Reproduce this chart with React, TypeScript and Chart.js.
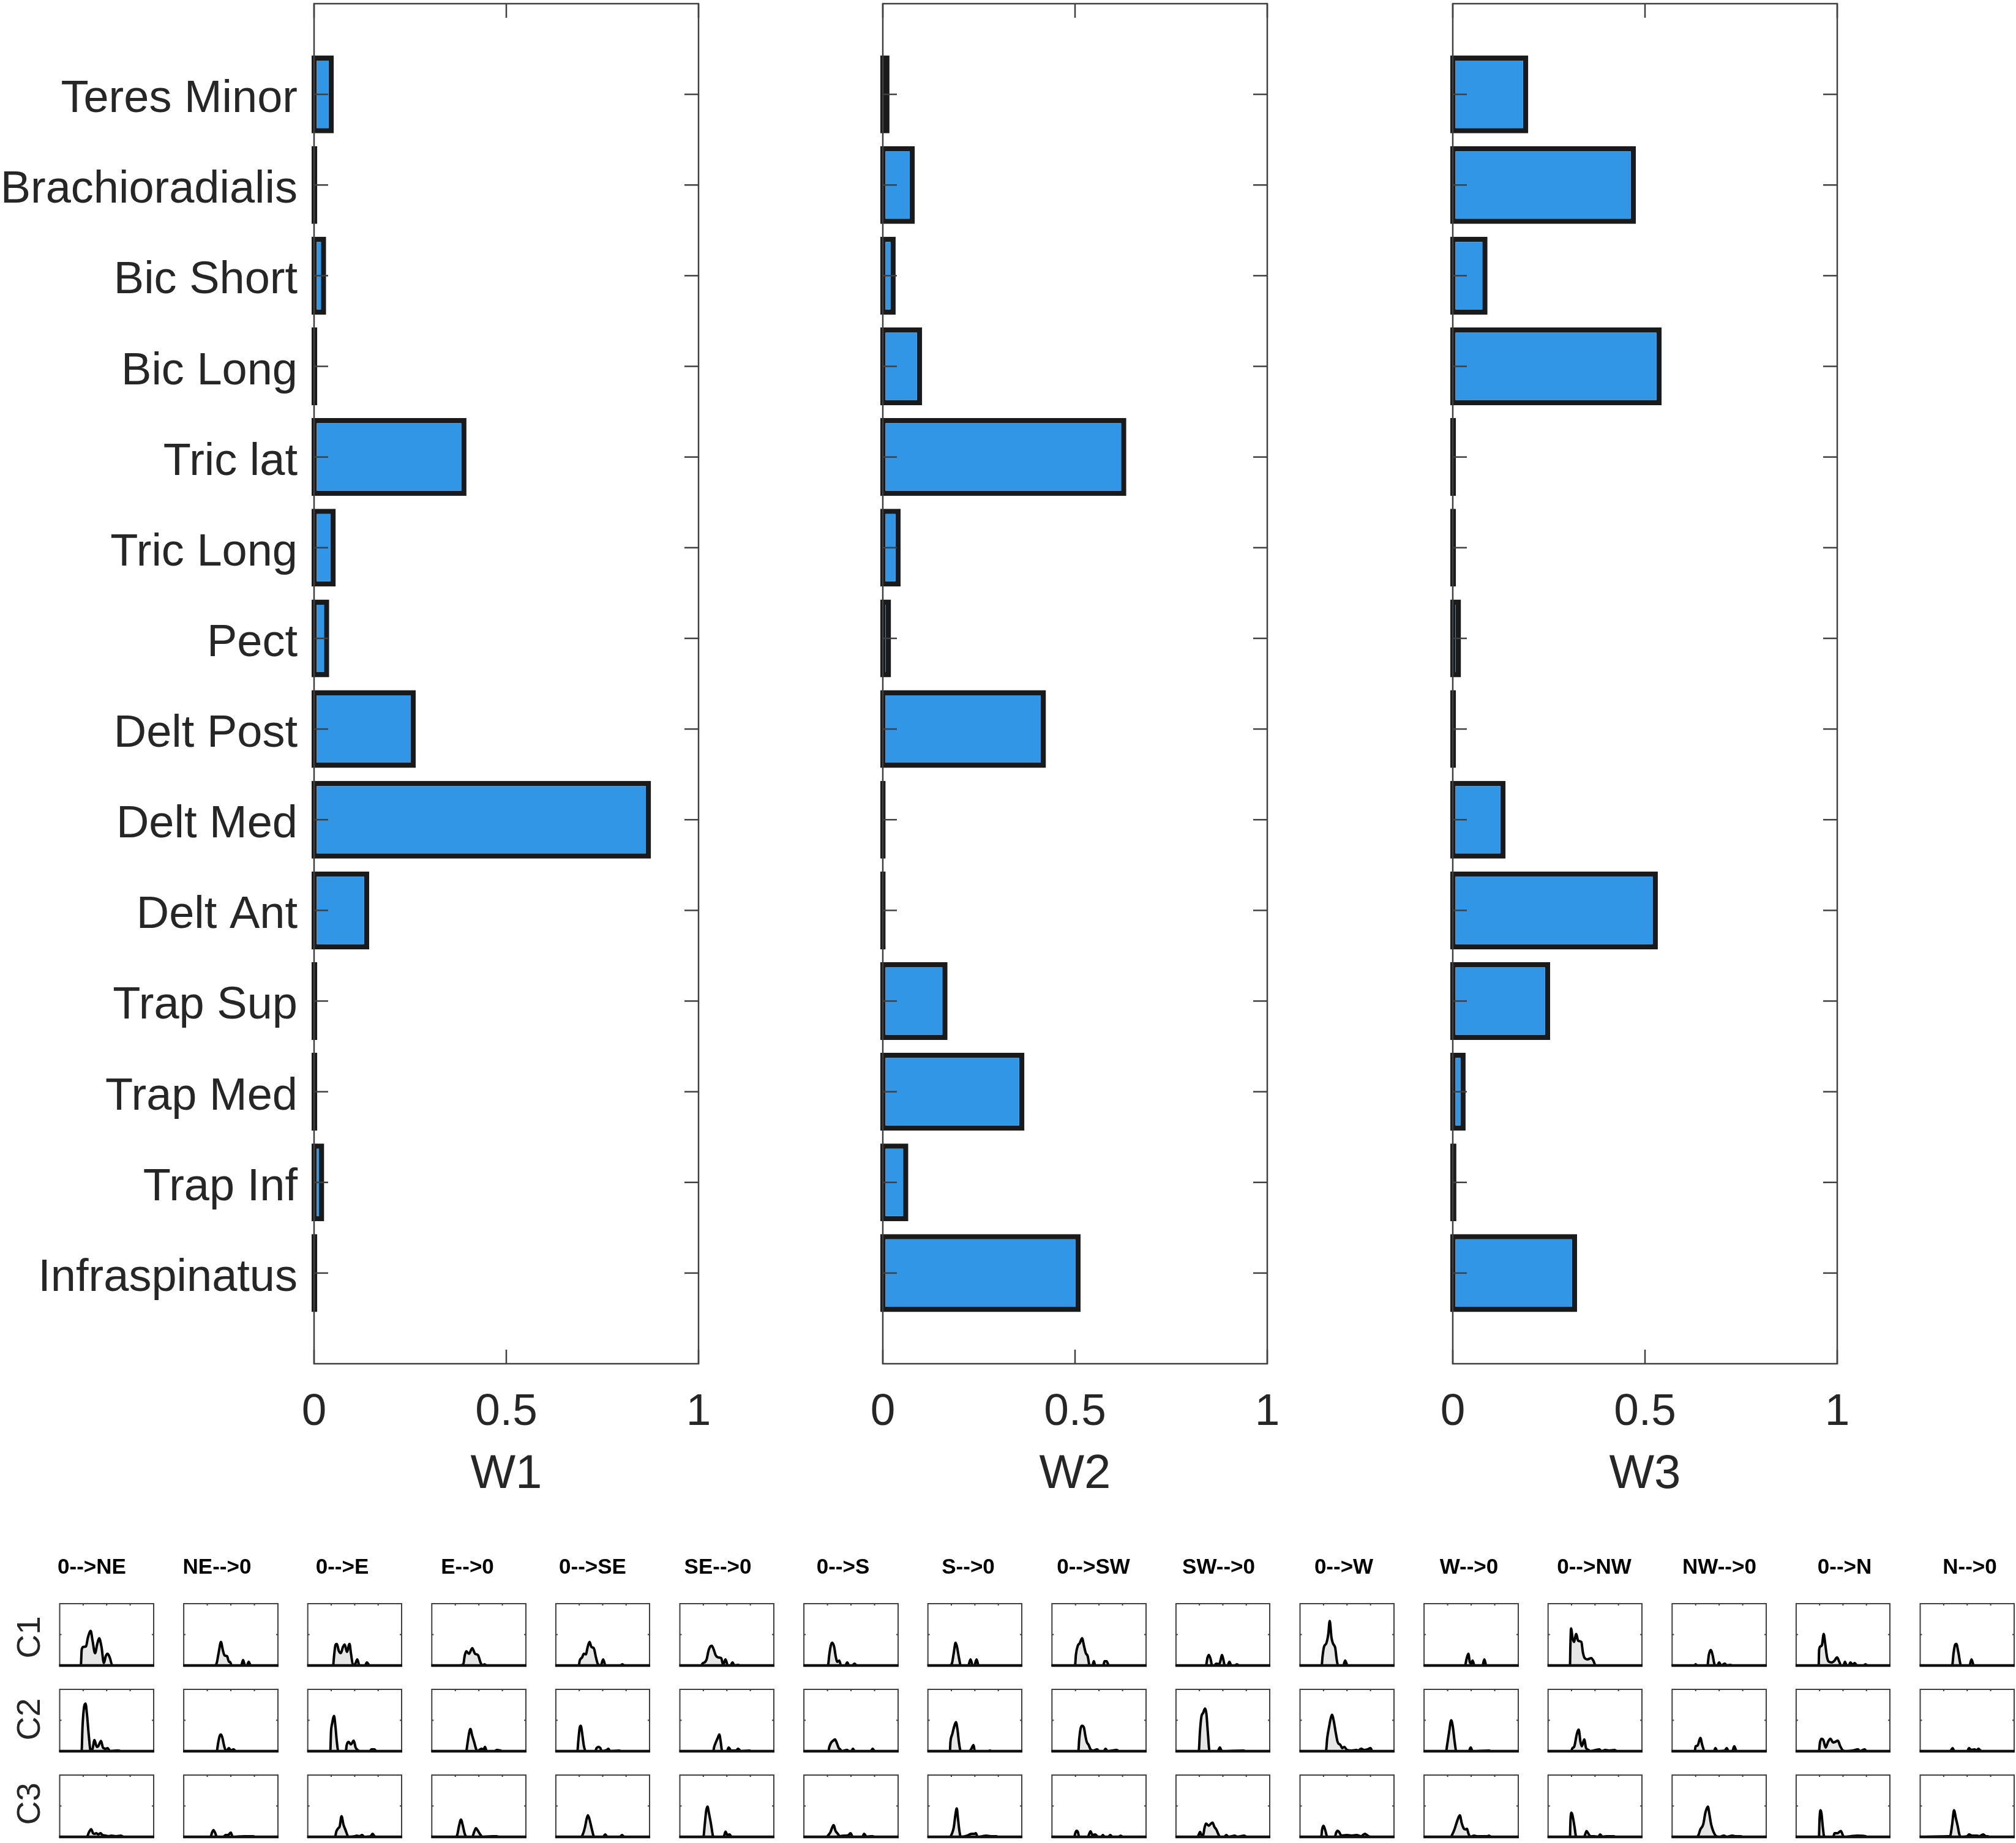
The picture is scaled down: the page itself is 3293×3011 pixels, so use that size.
import { useEffect, useRef } from "react"
import { Chart, registerables } from "chart.js"

Chart.register(...registerables)

const FONT = '"Liberation Sans", Arial, sans-serif'
const TEXT_COLOR = "#262626"
const FRAME_COLOR = "#404040"

// muscles, top of the axis first
const muscles = [
  "Teres Minor", "Brachioradialis", "Bic Short", "Bic Long", "Tric lat", "Tric Long", "Pect",
  "Delt Post", "Delt Med", "Delt Ant", "Trap Sup", "Trap Med", "Trap Inf", "Infraspinatus",
]
const w1 = [0.045, 0.002, 0.025, 0.002, 0.39, 0.05, 0.033, 0.258, 0.87, 0.137, 0.002, 0.002, 0.02, 0.002]
const w2 = [0.011, 0.077, 0.027, 0.096, 0.627, 0.04, 0.015, 0.418, 0.001, 0.001, 0.162, 0.362, 0.06, 0.508]
const w3 = [0.19, 0.47, 0.084, 0.537, 0.002, 0.002, 0.015, 0.002, 0.131, 0.527, 0.247, 0.027, 0.003, 0.317]
const xTickValues = [0, 0.5, 1]

const directions = [
  "0-->NE", "NE-->0", "0-->E", "E-->0", "0-->SE", "SE-->0", "0-->S", "S-->0",
  "0-->SW", "SW-->0", "0-->W", "W-->0", "0-->NW", "NW-->0", "0-->N", "N-->0",
]
const rowNames = ["C1", "C2", "C3"]

// [time %, activation], one list per direction
const c1: number[][][] = [
  [[22.5,0],[23.4,.25],[25,.30],[28,.31],[30,.45],[33,.56],[35,.4],[37.6,.2],[40,.35],[42,.44],[44.5,.3],[47,.04],[49,.15],[51,.19],[53.5,.12],[56,0]],
  [[33,0],[35,.04],[37,.2],[39.5,.38],[41.5,.25],[43.5,.16],[46,.15],[48,.06],[49,.06],[51,0],[61,0],[63,.09],[65,0],[67,0],[69,.06],[71,0]],
  [[27,0],[28,.15],[29.5,.33],[31,.35],[33,.24],[35.3,.2],[37.5,.3],[39.4,.34],[41.7,.22],[44.5,.35],[46,.2],[48,.02],[50,.01],[52.8,.1],[55,0],[61,0],[63,.05],[66,0]],
  [[29,0],[33.5,.02],[35,.16],[36.7,.23],[39.5,.19],[43,.28],[46,.19],[49,.17],[52,.04],[54,0],[56,.02],[58,0]],
  [[24.5,0],[25.5,.08],[28,.13],[30,.19],[32,.18],[34,.3],[36,.38],[38,.3],[40.5,.28],[43,.12],[45,.02],[48,0],[50.5,.1],[53,0],[69,0],[71,.02],[73,0]],
  [[23,0],[24,.03],[27,.06],[28.5,.1],[30.5,.24],[32.5,.31],[34,.32],[36,.26],[38,.17],[41,.13],[44,.12],[46,.01],[48.6,.1],[51,0],[54,0],[56,.05],[58,0],[62,.01],[64,0]],
  [[25.5,0],[27,.18],[28.5,.32],[30,.37],[32,.31],[34,.13],[35.5,.06],[37.5,.08],[39.5,0],[44,0],[46,.05],[48,0],[51.5,0],[53.7,.03],[56,0]],
  [[23,0],[25.5,.03],[27.5,.2],[29.5,.37],[31,.3],[33,.13],[35,0],[43,0],[45.4,.1],[47.7,0],[49.5,0],[51.8,.1],[54,0]],
  [[24.5,0],[25.5,.18],[27.5,.32],[29.5,.36],[32,.44],[34,.32],[36,.2],[38,.15],[40,0],[43,0],[44.5,.07],[46,0],[54.5,0],[56,.07],[58,.07],[60.5,0]],
  [[32,0],[33.5,.12],[35,.17],[37,.1],[38.5,0],[41,0],[43,.03],[46,.02],[47.5,.08],[49,.17],[50.5,.1],[52,0],[55,0],[57,.06],[59,0],[63,0],[65,.02],[67,0]],
  [[23,0],[24,.15],[25.5,.3],[28,.36],[30,.5],[31.6,.72],[33.5,.45],[35,.36],[37.5,.28],[39,.1],[40.5,0],[46,0],[48,.08],[50.5,0]],
  [[43.5,0],[45,.1],[47,.19],[48.5,.06],[50,.03],[51.5,.08],[53.5,0],[62,0],[64,.1],[66,0]],
  [[23.3,0],[23.8,.35],[24.5,.6],[26,.45],[27.5,.38],[30,.51],[32,.4],[35.5,.38],[37,.22],[39,.12],[42,.1],[46,.12],[48.5,.07],[50.5,0]],
  [[24,0],[25,.02],[26.5,0],[37.5,0],[39,.17],[41,.25],[43,.17],[45,.02],[46.5,0],[48,0],[50,.05],[52,0],[56,.03],[58,0],[62,.01],[64,0]],
  [[24,0],[24.5,.25],[26,.31],[27.5,.33],[29.4,.51],[31,.35],[33,.13],[35,.06],[38,.05],[41,.08],[43.6,.13],[46,.06],[48,0],[50.5,0],[52,.06],[54,0],[56,0],[58,.05],[60,.01],[62.5,.04],[65,0],[72,0],[74,.02],[76,0]],
  [[34,0],[35.5,.2],[37,.33],[38.5,.35],[40.5,.22],[43.5,0],[52.5,0],[54.6,.1],[57,0]],
]

const c2: number[][][] = [
  [[23.3,0],[24.3,.4],[26,.72],[27.5,.77],[29,.6],[31,.25],[33,0],[35,.04],[37,.18],[39.5,.07],[41,.08],[44,.165],[46,.06],[49,.04],[51,.05],[53.5,0],[60,.01],[63,.01],[65,0]],
  [[35,0],[36.5,.13],[38,.24],[39.5,.27],[41,.22],[43,.08],[45,0],[48,.05],[50,.01],[53,.03],[55,0]],
  [[24,0],[24.8,.32],[26,.45],[28,.57],[29.5,.4],[31,.15],[32.6,0],[40.5,0],[41.5,.1],[43.5,.15],[46,.11],[49,.17],[51,.06],[53,.02],[56,0],[66,0],[68,.03],[71,.03],[73,0]],
  [[36.5,0],[38,.13],[39.5,.28],[41,.36],[43,.25],[45,.15],[47,.04],[48.5,0],[51.5,.03],[53,.04],[55,.02],[56.5,.07],[58.5,0],[67,0],[69,.02],[73,.01],[75,0]],
  [[23,0],[24,.17],[25.5,.38],[26.6,.41],[28,.3],[30,.08],[32,0],[42,0],[43.5,.05],[45.5,.07],[47.5,.05],[49,0],[54.5,.02],[56,.04],[58,0],[67.5,.01],[70,0]],
  [[35.5,0],[36.5,.07],[38.5,.15],[40.5,.22],[42,.27],[43.5,.15],[45,0],[50,0],[52,.06],[54.5,.01],[60,.01],[62,.04],[65,0],[74,.01],[76,0]],
  [[26,0],[27,.07],[29,.14],[31,.17],[33,.19],[35,.13],[37,.05],[38.5,.03],[40,0],[46,.02],[47.5,0],[50.5,0],[52,.04],[54,0],[71,0],[73,.04],[75,0]],
  [[23.4,0],[24,.15],[26,.28],[28,.4],[29.8,.47],[31.5,.35],[33,.15],[35,0],[44,0],[46,.03],[48.6,.1],[50,0],[65,0],[66,.01],[68,0]],
  [[28,0],[29,.2],[30.5,.37],[32,.41],[34,.38],[35.5,.25],[37,.15],[39,.1],[41,.03],[44,.01],[48,.03],[50,0],[55,0],[57,.04],[59,0],[69,.02],[71,0]],
  [[24.3,0],[25.5,.3],[27,.55],[29,.62],[31,.69],[32.5,.6],[34,.3],[35.8,0],[44.5,0],[46.8,.06],[49,0],[72,.01],[74,0]],
  [[27.5,0],[29,.22],[31,.4],[32.5,.52],[34,.59],[36,.48],[38,.3],[40,.15],[43,.1],[45,.05],[47,.07],[50,.02],[55,.01],[60,.02],[62,.01],[65,.04],[68,.02],[72,.03],[75,.05],[77,0]],
  [[23.4,0],[24.5,.1],[26.5,.3],[28.8,.5],[30.5,.4],[32.5,.15],[34.2,0],[47.5,0],[49.5,.06],[51.5,0],[69,.01],[71,0]],
  [[24.5,0],[26,.05],[28,.08],[30.5,.27],[32.6,.35],[34.5,.15],[36,.08],[38.5,.19],[40.5,.05],[43,.02],[45,0],[54.6,.03],[57,0],[61,.02],[65,.01],[71,.02],[73,0]],
  [[24,0],[25,.08],[27,.09],[30,.215],[32,.1],[34.5,0],[44.5,0],[46,.05],[48,0],[56,.01],[58,.05],[60,0],[64,0],[66,.08],[68.5,0]],
  [[24.3,0],[25.3,.13],[27,.2],[29,.18],[31.5,.06],[34,.15],[36.5,.2],[39.5,.14],[41.5,.15],[44.5,.17],[47,.08],[50,.01],[53,0],[60,.01],[66,.03],[68,0],[73,.03],[75,0]],
  [[32,0],[34.4,.05],[36.5,0],[50,0],[52,.05],[54,.02],[58,.03],[60,.01],[62,.04],[64,.01],[66,0]],
]

const c3: number[][][] = [
  [[29,0],[31,.07],[33.5,.125],[35.5,.06],[37,.05],[39,.06],[41,.04],[43.5,.06],[45.5,.03],[49,.02],[52,.01],[55,.02],[60,.01],[65,.02],[68,0]],
  [[28.5,0],[30,.07],[31.6,.11],[33.5,.06],[35,0],[42,0],[44.5,.03],[47,.03],[50,.07],[52,0],[64,.01],[70,.01],[74,.01],[75,0]],
  [[29,0],[30.5,.09],[32.5,.14],[34,.17],[36,.335],[38,.2],[40,.12],[43.5,0],[50,.01],[52,.02],[55,.01],[58,.03],[60,0],[67,.01],[69,.05],[72,0]],
  [[25,0],[27,.03],[29,.18],[31,.28],[33,.18],[35,.05],[37,0],[43,0],[45,.08],[47,.14],[49,.1],[51,.05],[54,0],[64,.01],[69,.01],[71,0]],
  [[27,0],[29,.05],[31,.15],[33,.3],[34.2,.35],[36,.28],[38.5,.12],[41,0],[50.5,0],[52.7,.04],[55,0],[68.5,0],[70.6,.03],[73,0]],
  [[25,0],[26.5,.2],[28,.42],[29.4,.49],[31,.38],[33,.22],[35.8,0],[46.5,0],[48.6,.085],[50.5,.03],[53,.04],[55,0]],
  [[24,0],[26,.03],[28,.07],[30,.15],[31.6,.19],[33.5,.1],[36,.05],[38,.01],[42,.02],[45,.02],[47.5,.03],[49.5,.06],[52,0],[62,0],[64,.05],[66.5,0],[71,.01],[73,.01],[75,0]],
  [[23.4,0],[25.5,.05],[27.5,.15],[29.5,.38],[30.7,.46],[32,.3],[33.5,.1],[35,0],[42,.02],[44.5,.04],[47,.05],[49.5,.05],[51,.06],[53,0],[58,.01],[62,.02],[67,.01],[73,.01],[74,0]],
  [[23.5,0],[25,.07],[26,.1],[27.5,.08],[29,0],[38,0],[41,.09],[43,.03],[46,.04],[49,0],[52.5,0],[54,.03],[56,0],[60,0],[62,.03],[64,0],[71,0],[73,.02],[75,0]],
  [[23,0],[25.7,.08],[27.5,.02],[29,.03],[30.5,.15],[32,.215],[35,.18],[37,.21],[39,.23],[41,.16],[43,.12],[45,.05],[47,0],[51.5,0],[53.7,.03],[56,0],[63,.02],[65,0],[73,.02],[75,0]],
  [[22.5,0],[23.5,.12],[25,.18],[27,.1],[29,0],[37,0],[38.5,.07],[40,.1],[42,.07],[44,.02],[50,.03],[55,.02],[60,.03],[65,.01],[69,.05],[73,.01],[75,0]],
  [[28.5,0],[30,.04],[32.5,.13],[35,.25],[37,.33],[38,.35],[40,.22],[42,.14],[44,.12],[45.5,.13],[47,.06],[49,0],[53,.02],[56,.01],[67,.01],[69,.02],[71,0]],
  [[23.3,0],[23.8,.25],[24.8,.39],[26,.35],[28,.18],[30,0],[38.5,0],[39.5,.04],[41,.095],[43,.05],[45,.01],[49,.01],[53.5,0],[55.5,.04],[58,0],[62,.01],[70,.01],[72,0]],
  [[26.5,0],[28,.03],[30,.12],[33,.2],[35.5,.4],[38,.49],[39.5,.38],[41.5,.2],[44,.08],[47,.01],[50,0],[55,.02],[58,0],[64,.02],[67,.01],[73,.01],[75,0]],
  [[24.3,0],[25,.3],[26,.43],[27,.38],[28.5,.15],[30,0],[39.5,0],[41,.06],[44,.06],[47.7,.095],[50,.02],[51.5,0],[58,.01],[65,.02],[74,.01],[75,0]],
  [[30.5,.01],[32,.02],[34,.2],[36,.43],[38,.3],[40,.17],[41.5,.05],[43,0],[50,.01],[52,.04],[55,.02],[60.5,.02],[63,.01],[67,.04],[70,.01],[72,.01],[73,0]],
]

const rows = [c1, c2, c3]
const miniXTicks = [25, 50, 75]
const miniYTicks = [0.5]

// bar panels
const BAR_TOP = 6
const BAR_BOTTOM = 2228
const BAR_WIDTH = 628
const BAR_AXIS_LEFT = 513
const barPanelLefts = [513, 1442, 2373]
const BAR_EDGE = 4 // half of the stroke, MATLAB centres it on the bar outline
const LABEL_GAP = 27
const LABEL_BASELINE = 29 // below the tick, the labels do not sit centred on it in the figure

// small panels
const MINI_LEFT = 97.5
const MINI_PITCH = 202.6
const MINI_WIDTH = 153
const MINI_HEIGHT = 100.5
const miniTops = [2620, 2760, 2900]
const TITLE_Y = 2561
const TITLE_START = 150
const TITLE_PITCH = 204.5
const rowLabelYs = [2675, 2809, 2947]
const ROW_LABEL_X = 50

const drawFrame = (ctx: CanvasRenderingContext2D, a: { left: number; right: number; top: number; bottom: number }, lw: number) => {
  ctx.strokeStyle = FRAME_COLOR
  ctx.lineWidth = lw
  ctx.strokeRect(a.left, a.top, a.right - a.left, a.bottom - a.top)
}

const line = (ctx: CanvasRenderingContext2D, x1: number, y1: number, x2: number, y2: number) => {
  ctx.beginPath()
  ctx.moveTo(x1, y1)
  ctx.lineTo(x2, y2)
  ctx.stroke()
}

function BarPanel({ values, left, title, showLabels }: { values: number[]; left: number; title: string; showLabels: boolean }) {
  const ref = useRef<HTMLCanvasElement>(null)

  useEffect(() => {
    if (!ref.current) return
    const edge = BAR_EDGE / BAR_WIDTH
    const chart = new Chart(ref.current, {
      type: "bar",
      data: {
        datasets: [
          {
            data: values.map((v, i) => ({ x: [-edge, v + edge], y: i + 1 })) as any,
            backgroundColor: "#3296e6",
            borderColor: "#1a1a1a",
            borderWidth: 8.5,
            borderSkipped: false,
            inflateAmount: 0,
            barPercentage: 0.858,
            categoryPercentage: 1,
            clip: false as any,
          },
        ],
      },
      options: {
        indexAxis: "y",
        animation: false,
        responsive: false,
        devicePixelRatio: 1,
        layout: { padding: { top: BAR_TOP, right: 39, left: 0, bottom: 0 } },
        plugins: { legend: { display: false }, tooltip: { enabled: false } },
        scales: {
          x: {
            type: "linear",
            min: 0,
            max: 1,
            afterFit: (s: any) => {
              s.height = 240
              s.paddingLeft = 0
              s.paddingRight = 0
            },
            afterBuildTicks: (s: any) => { s.ticks = xTickValues.map((value) => ({ value })) },
            grid: { display: false },
            border: { display: false },
            ticks: {
              color: TEXT_COLOR,
              font: { family: FONT, size: 73 },
              padding: 28,
              maxRotation: 0,
              callback: (v: any) => String(v),
            },
            title: { display: true, text: title, color: TEXT_COLOR, font: { family: FONT, size: 78 }, padding: { top: 0, bottom: 12 } },
          },
          y: {
            type: "linear",
            reverse: true,
            offset: false,
            min: 0,
            max: 15,
            afterFit: (s: any) => {
              s.width = BAR_AXIS_LEFT
              s.paddingTop = 0
              s.paddingBottom = 0
            },
            grid: { display: false },
            border: { display: false },
            ticks: { display: false, stepSize: 1 },
          },
        },
      },
      plugins: [
        {
          id: "matlabBox",
          afterDatasetsDraw(c: any) {
            const { ctx, chartArea: a, scales } = c
            ctx.save()
            drawFrame(ctx, a, 2.5)
            ctx.textAlign = "right"
            ctx.textBaseline = "alphabetic"
            ctx.fillStyle = TEXT_COLOR
            ctx.font = `74px ${FONT}`
            muscles.forEach((name, i) => {
              const y = scales.y.getPixelForValue(i + 1)
              line(ctx, a.left, y, a.left + 23, y)
              line(ctx, a.right, y, a.right - 23, y)
              if (showLabels) ctx.fillText(name, a.left - LABEL_GAP, y + LABEL_BASELINE)
            })
            xTickValues.forEach((v) => {
              const x = scales.x.getPixelForValue(v)
              line(ctx, x, a.bottom, x, a.bottom - 23)
              line(ctx, x, a.top, x, a.top + 23)
            })
            ctx.restore()
          },
        },
      ],
    })
    return () => chart.destroy()
  }, [values, title, showLabels])

  return (
    <canvas
      ref={ref}
      width={BAR_AXIS_LEFT + BAR_WIDTH + 39}
      height={BAR_BOTTOM + 240}
      style={{ position: "absolute", left: left - BAR_AXIS_LEFT, top: 0 }}
    />
  )
}

function TracePanel({ trace, row, col }: { trace: number[][]; row: number; col: number }) {
  const ref = useRef<HTMLCanvasElement>(null)

  const panelLeft = MINI_LEFT + col * MINI_PITCH
  const canvasLeft = Math.floor(panelLeft) - 90
  const padLeft = panelLeft - canvasLeft
  const padTop = row === 0 ? 80 : 4
  const canvasTop = Math.floor(miniTops[row]) - padTop
  const paddingTop = miniTops[row] - canvasTop

  useEffect(() => {
    if (!ref.current) return
    const points = [[0, 0], ...trace, [100, 0]].map(([x, y]) => ({ x, y }))
    const chart = new Chart(ref.current, {
      type: "line",
      data: {
        datasets: [
          {
            data: points,
            borderColor: "#000000",
            borderWidth: 4,
            backgroundColor: "#e6e6e6",
            fill: "origin",
            pointRadius: 0,
            cubicInterpolationMode: "monotone",
            borderCapStyle: "round",
            borderJoinStyle: "round",
          },
        ],
      },
      options: {
        animation: false,
        responsive: false,
        devicePixelRatio: 1,
        layout: { padding: { left: padLeft, right: 6, top: paddingTop, bottom: 6 } },
        plugins: { legend: { display: false }, tooltip: { enabled: false } },
        scales: {
          x: { type: "linear", min: 0, max: 100, display: false },
          y: { type: "linear", min: 0, max: 1, display: false },
        },
      },
      plugins: [
        {
          id: "miniBox",
          afterDatasetsDraw(c: any) {
            const { ctx, chartArea: a, scales } = c
            ctx.save()
            drawFrame(ctx, a, 2)
            // the flat zero stretch of the trace merges with the axis into a heavy base line
            ctx.strokeStyle = "#111111"
            ctx.lineWidth = 4.5
            line(ctx, a.left - 1, a.bottom, a.right + 1, a.bottom)
            ctx.strokeStyle = FRAME_COLOR
            ctx.lineWidth = 2
            miniXTicks.forEach((v) => {
              const x = scales.x.getPixelForValue(v)
              line(ctx, x, a.top, x, a.top + 3)
            })
            miniYTicks.forEach((v) => {
              const y = scales.y.getPixelForValue(v)
              line(ctx, a.left, y, a.left + 3, y)
              line(ctx, a.right, y, a.right - 3, y)
            })
            ctx.textAlign = "center"
            ctx.textBaseline = "middle"
            if (row === 0) {
              ctx.fillStyle = "#000000"
              ctx.font = `bold 35px ${FONT}`
              ctx.fillText(directions[col], TITLE_START + col * TITLE_PITCH - canvasLeft, TITLE_Y - canvasTop)
            }
            if (col === 0) {
              ctx.translate(ROW_LABEL_X - canvasLeft, rowLabelYs[row] - canvasTop)
              ctx.rotate(-Math.PI / 2)
              ctx.fillStyle = TEXT_COLOR
              ctx.font = `54px ${FONT}`
              ctx.fillText(rowNames[row], 0, 0)
            }
            ctx.restore()
          },
        },
      ],
    })
    return () => chart.destroy()
  }, [trace, row, col])

  return (
    <canvas
      ref={ref}
      width={Math.ceil(padLeft + MINI_WIDTH + 6)}
      height={Math.ceil(paddingTop + MINI_HEIGHT + 6)}
      style={{ position: "absolute", left: canvasLeft, top: canvasTop }}
    />
  )
}

export default function App() {
  return (
    <div style={{ position: "absolute", left: 0, top: 0, width: 3293, height: 3011, overflow: "hidden", background: "#ffffff" }}>
      <BarPanel values={w1} left={barPanelLefts[0]} title="W1" showLabels />
      <BarPanel values={w2} left={barPanelLefts[1]} title="W2" showLabels={false} />
      <BarPanel values={w3} left={barPanelLefts[2]} title="W3" showLabels={false} />
      {rows.map((traces, row) =>
        traces.map((trace, col) => <TracePanel key={`${row}-${col}`} trace={trace} row={row} col={col} />)
      )}
    </div>
  )
}
